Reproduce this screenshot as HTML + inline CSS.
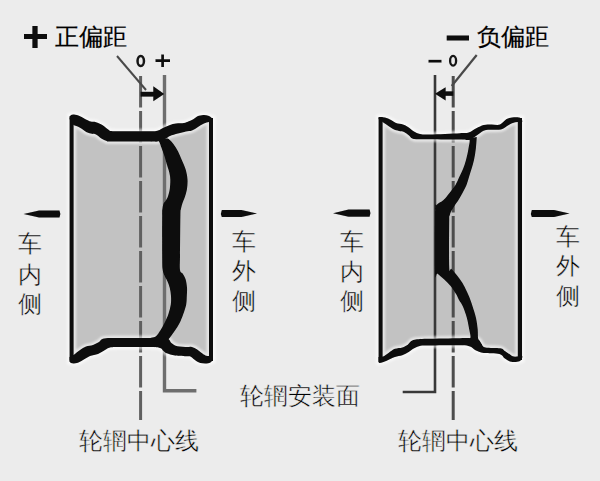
<!DOCTYPE html>
<html><head><meta charset="utf-8"><style>
html,body{margin:0;padding:0;background:#ececec;width:600px;height:481px;overflow:hidden}
svg{display:block}
</style></head><body>
<svg width="600" height="481" viewBox="0 0 600 481">
<rect x="0" y="0" width="600" height="481" fill="#ececec"/>
<defs><filter id="soft" filterUnits="userSpaceOnUse" x="0" y="0" width="600" height="481"><feGaussianBlur stdDeviation="0.5"/></filter></defs>
<g filter="url(#soft)">
<path d="M69.50,119.00 C69.67,118.42 69.75,116.25 70.50,115.50 C71.25,114.75 72.42,114.38 74.00,114.50 C75.58,114.62 77.92,115.32 80.00,116.20 C82.08,117.08 84.72,118.90 86.50,119.80 C88.28,120.70 89.12,121.20 90.70,121.60 C92.28,122.00 94.00,121.60 96.00,122.20 C98.00,122.80 100.48,123.85 102.70,125.20 C104.92,126.55 107.58,129.30 109.30,130.30 C111.02,131.30 106.22,131.03 113.00,131.20 C119.78,131.37 142.50,131.42 150.00,131.30 C157.50,131.18 155.67,131.13 158.00,130.50 C160.33,129.87 162.00,128.42 164.00,127.50 C166.00,126.58 168.00,125.67 170.00,125.00 C172.00,124.33 173.67,123.83 176.00,123.50 C178.33,123.17 181.95,123.33 184.00,123.00 C186.05,122.67 186.75,122.13 188.30,121.50 C189.85,120.87 191.77,120.08 193.30,119.20 C194.83,118.33 195.83,116.95 197.50,116.25 C199.17,115.55 201.50,115.08 203.30,115.00 C205.10,114.92 206.77,115.17 208.30,115.80 C209.83,116.42 211.72,117.72 212.50,118.75 C213.28,119.78 212.92,121.46 213.00,122.00 L213.00,358.30 C212.70,358.90 212.23,361.05 211.20,361.90 C210.17,362.75 208.62,363.22 206.80,363.40 C204.98,363.58 202.12,363.43 200.30,363.00 C198.48,362.57 197.48,361.83 195.90,360.80 C194.32,359.77 192.20,357.56 190.80,356.80 C189.40,356.04 190.13,356.48 187.50,356.25 C184.87,356.02 178.47,355.89 175.00,355.40 C171.53,354.91 168.65,354.07 166.70,353.30 C164.75,352.53 164.42,351.70 163.30,350.80 C162.18,349.90 162.22,348.53 160.00,347.90 C157.78,347.27 156.67,347.15 150.00,347.00 C143.33,346.85 126.67,346.92 120.00,347.00 C113.33,347.08 112.50,347.00 110.00,347.50 C107.50,348.00 107.00,348.92 105.00,350.00 C103.00,351.08 100.50,353.00 98.00,354.00 C95.50,355.00 92.50,355.00 90.00,356.00 C87.50,357.00 85.17,358.83 83.00,360.00 C80.83,361.17 79.00,362.50 77.00,363.00 C75.00,363.50 72.25,363.50 71.00,363.00 C69.75,362.50 69.75,360.50 69.50,360.00 Z" fill="#c2c2c2"/>
<path d="M378.50,119.00 C378.67,118.67 378.42,117.25 379.50,117.00 C380.58,116.75 383.08,117.00 385.00,117.50 C386.92,118.00 389.17,119.08 391.00,120.00 C392.83,120.92 394.00,122.25 396.00,123.00 C398.00,123.75 401.00,123.83 403.00,124.50 C405.00,125.17 406.17,125.83 408.00,127.00 C409.83,128.17 412.00,130.33 414.00,131.50 C416.00,132.67 417.33,133.50 420.00,134.00 C422.67,134.50 423.33,134.63 430.00,134.50 C436.67,134.37 453.55,133.52 460.00,133.20 C466.45,132.88 465.98,133.42 468.70,132.60 C471.42,131.78 473.78,129.57 476.30,128.30 C478.82,127.03 481.28,125.63 483.80,125.00 C486.32,124.37 488.70,124.58 491.40,124.50 C494.10,124.42 497.47,125.40 500.00,124.50 C502.53,123.60 504.60,120.27 506.60,119.10 C508.60,117.93 509.93,117.77 512.00,117.50 C514.07,117.23 517.37,117.15 519.00,117.50 C520.63,117.85 521.25,118.85 521.80,119.60 C522.35,120.35 522.22,121.60 522.30,122.00 L522.30,357.50 C521.83,358.12 521.33,360.50 519.50,361.20 C517.67,361.90 513.73,362.17 511.30,361.70 C508.87,361.23 506.88,359.70 504.90,358.40 C502.92,357.10 502.92,354.82 499.40,353.90 C495.88,352.98 487.78,353.52 483.80,352.90 C479.82,352.28 477.80,351.27 475.50,350.20 C473.20,349.13 472.58,347.32 470.00,346.50 C467.42,345.68 467.17,345.47 460.00,345.30 C452.83,345.13 433.57,345.42 427.00,345.50 C420.43,345.58 422.73,345.33 420.60,345.80 C418.47,346.27 416.18,347.27 414.20,348.30 C412.22,349.33 410.68,350.85 408.70,352.00 C406.72,353.15 404.60,354.37 402.30,355.20 C400.00,356.03 397.50,356.08 394.90,357.00 C392.30,357.92 389.27,359.70 386.70,360.70 C384.13,361.70 380.87,363.12 379.50,363.00 C378.13,362.88 378.67,360.50 378.50,360.00 Z" fill="#c2c2c2"/>
<line x1="140.6" y1="76" x2="140.6" y2="420" stroke="#606060" stroke-width="3" stroke-dasharray="31.5 3.5"/>
<polyline points="164.5,75 164.5,390.8 196.4,390.8" fill="none" stroke="#6e6e6e" stroke-width="3.4"/>
<line x1="453.2" y1="76" x2="453.2" y2="420" stroke="#4e4e4e" stroke-width="3" stroke-dasharray="31.5 3.5"/>
<polyline points="435,75 435,392 402.7,392" fill="none" stroke="#383838" stroke-width="2.6"/>
<defs><filter id="hb" x="-5%" y="-5%" width="110%" height="110%"><feGaussianBlur stdDeviation="1.2"/></filter></defs>
<g filter="url(#hb)" opacity="0.6"><path d="M69.50,119.00 C69.67,118.42 69.75,116.25 70.50,115.50 C71.25,114.75 72.42,114.38 74.00,114.50 C75.58,114.62 77.92,115.32 80.00,116.20 C82.08,117.08 84.72,118.90 86.50,119.80 C88.28,120.70 89.12,121.20 90.70,121.60 C92.28,122.00 94.00,121.60 96.00,122.20 C98.00,122.80 100.48,123.85 102.70,125.20 C104.92,126.55 107.58,129.30 109.30,130.30 C111.02,131.30 106.22,131.03 113.00,131.20 C119.78,131.37 142.50,131.42 150.00,131.30 C157.50,131.18 155.67,131.13 158.00,130.50 C160.33,129.87 162.00,128.42 164.00,127.50 C166.00,126.58 168.00,125.67 170.00,125.00 C172.00,124.33 173.67,123.83 176.00,123.50 C178.33,123.17 181.95,123.33 184.00,123.00 C186.05,122.67 186.75,122.13 188.30,121.50 C189.85,120.87 191.77,120.08 193.30,119.20 C194.83,118.33 195.83,116.95 197.50,116.25 C199.17,115.55 201.50,115.08 203.30,115.00 C205.10,114.92 206.77,115.17 208.30,115.80 C209.83,116.42 211.72,117.72 212.50,118.75 C213.28,119.78 212.92,121.46 213.00,122.00 L213.00,122.00 C212.33,122.00 210.50,121.75 209.00,122.00 C207.50,122.25 205.83,122.67 204.00,123.50 C202.17,124.33 200.00,125.83 198.00,127.00 C196.00,128.17 194.00,129.75 192.00,130.50 C190.00,131.25 188.33,131.00 186.00,131.50 C183.67,132.00 180.67,132.75 178.00,133.50 C175.33,134.25 172.00,135.17 170.00,136.00 C168.00,136.83 168.08,137.60 166.00,138.50 C163.92,139.40 160.17,140.90 157.50,141.40 C154.83,141.90 157.75,141.48 150.00,141.50 C142.25,141.52 118.22,141.60 111.00,141.50 C103.78,141.40 108.32,141.42 106.70,140.90 C105.08,140.38 103.08,139.47 101.30,138.40 C99.52,137.33 97.55,135.27 96.00,134.50 C94.45,133.73 93.55,134.17 92.00,133.80 C90.45,133.43 88.70,133.32 86.70,132.30 C84.70,131.28 82.20,128.92 80.00,127.70 C77.80,126.48 74.58,125.45 73.50,125.00 Z" fill="none" stroke="#ffffff" stroke-width="5" stroke-linejoin="round"/><path d="M69.50,357.00 C70.17,356.67 71.75,356.17 73.50,355.00 C75.25,353.83 77.92,351.42 80.00,350.00 C82.08,348.58 83.83,347.33 86.00,346.50 C88.17,345.67 90.83,345.75 93.00,345.00 C95.17,344.25 97.17,343.08 99.00,342.00 C100.83,340.92 100.50,339.17 104.00,338.50 C107.50,337.83 112.33,338.10 120.00,338.00 C127.67,337.90 143.75,337.92 150.00,337.90 C156.25,337.88 154.83,337.80 157.50,337.90 C160.17,338.00 164.05,338.20 166.00,338.50 C167.95,338.80 168.25,338.90 169.20,339.70 C170.15,340.50 170.32,342.21 171.70,343.30 C173.08,344.39 174.87,345.63 177.50,346.25 C180.13,346.87 185.28,346.91 187.50,347.00 C189.72,347.09 189.40,346.50 190.80,346.80 C192.20,347.10 194.20,347.85 195.90,348.80 C197.60,349.75 199.42,351.40 201.00,352.50 C202.58,353.60 204.07,354.80 205.40,355.40 C206.73,356.00 207.73,356.00 209.00,356.10 C210.27,356.20 212.33,356.02 213.00,356.00 L213.00,358.30 C212.70,358.90 212.23,361.05 211.20,361.90 C210.17,362.75 208.62,363.22 206.80,363.40 C204.98,363.58 202.12,363.43 200.30,363.00 C198.48,362.57 197.48,361.83 195.90,360.80 C194.32,359.77 192.20,357.56 190.80,356.80 C189.40,356.04 190.13,356.48 187.50,356.25 C184.87,356.02 178.47,355.89 175.00,355.40 C171.53,354.91 168.65,354.07 166.70,353.30 C164.75,352.53 164.42,351.70 163.30,350.80 C162.18,349.90 162.22,348.53 160.00,347.90 C157.78,347.27 156.67,347.15 150.00,347.00 C143.33,346.85 126.67,346.92 120.00,347.00 C113.33,347.08 112.50,347.00 110.00,347.50 C107.50,348.00 107.00,348.92 105.00,350.00 C103.00,351.08 100.50,353.00 98.00,354.00 C95.50,355.00 92.50,355.00 90.00,356.00 C87.50,357.00 85.17,358.83 83.00,360.00 C80.83,361.17 79.00,362.50 77.00,363.00 C75.00,363.50 72.25,363.50 71.00,363.00 C69.75,362.50 69.75,360.50 69.50,360.00 Z" fill="none" stroke="#ffffff" stroke-width="5" stroke-linejoin="round"/><path d="M378.50,119.00 C378.67,118.67 378.42,117.25 379.50,117.00 C380.58,116.75 383.08,117.00 385.00,117.50 C386.92,118.00 389.17,119.08 391.00,120.00 C392.83,120.92 394.00,122.25 396.00,123.00 C398.00,123.75 401.00,123.83 403.00,124.50 C405.00,125.17 406.17,125.83 408.00,127.00 C409.83,128.17 412.00,130.33 414.00,131.50 C416.00,132.67 417.33,133.50 420.00,134.00 C422.67,134.50 423.33,134.63 430.00,134.50 C436.67,134.37 453.55,133.52 460.00,133.20 C466.45,132.88 465.98,133.42 468.70,132.60 C471.42,131.78 473.78,129.57 476.30,128.30 C478.82,127.03 481.28,125.63 483.80,125.00 C486.32,124.37 488.70,124.58 491.40,124.50 C494.10,124.42 497.47,125.40 500.00,124.50 C502.53,123.60 504.60,120.27 506.60,119.10 C508.60,117.93 509.93,117.77 512.00,117.50 C514.07,117.23 517.37,117.15 519.00,117.50 C520.63,117.85 521.25,118.85 521.80,119.60 C522.35,120.35 522.22,121.60 522.30,122.00 L522.30,122.00 C521.13,122.05 517.55,121.80 515.30,122.30 C513.05,122.80 511.18,123.82 508.80,125.00 C506.42,126.18 504.80,128.57 501.00,129.40 C497.20,130.23 489.77,129.18 486.00,130.00 C482.23,130.82 481.10,132.68 478.40,134.30 C475.70,135.92 472.87,138.82 469.80,139.70 C466.73,140.58 466.63,139.68 460.00,139.60 C453.37,139.52 437.67,139.30 430.00,139.20 C422.33,139.10 417.50,139.62 414.00,139.00 C410.50,138.38 410.67,136.67 409.00,135.50 C407.33,134.33 405.67,132.75 404.00,132.00 C402.33,131.25 400.83,131.50 399.00,131.00 C397.17,130.50 395.00,130.00 393.00,129.00 C391.00,128.00 388.75,126.17 387.00,125.00 C385.25,123.83 383.25,122.50 382.50,122.00 Z" fill="none" stroke="#ffffff" stroke-width="5" stroke-linejoin="round"/><path d="M378.50,357.00 C379.25,356.93 381.33,357.28 383.00,356.60 C384.67,355.92 386.52,354.20 388.50,352.90 C390.48,351.60 392.60,349.72 394.90,348.80 C397.20,347.88 400.15,348.08 402.30,347.40 C404.45,346.72 405.97,345.92 407.80,344.70 C409.63,343.48 410.10,341.08 413.30,340.10 C416.50,339.12 419.22,339.12 427.00,338.80 C434.78,338.48 452.78,338.30 460.00,338.20 C467.22,338.10 467.25,337.98 470.30,338.20 C473.35,338.42 476.37,338.42 478.30,339.50 C480.23,340.58 480.68,343.38 481.90,344.70 C483.12,346.02 482.53,346.80 485.60,347.40 C488.67,348.00 497.08,347.68 500.30,348.30 C503.52,348.92 503.22,350.02 504.90,351.10 C506.58,352.18 508.88,353.88 510.40,354.80 C511.92,355.72 512.02,356.40 514.00,356.60 C515.98,356.80 520.92,356.10 522.30,356.00 L522.30,357.50 C521.83,358.12 521.33,360.50 519.50,361.20 C517.67,361.90 513.73,362.17 511.30,361.70 C508.87,361.23 506.88,359.70 504.90,358.40 C502.92,357.10 502.92,354.82 499.40,353.90 C495.88,352.98 487.78,353.52 483.80,352.90 C479.82,352.28 477.80,351.27 475.50,350.20 C473.20,349.13 472.58,347.32 470.00,346.50 C467.42,345.68 467.17,345.47 460.00,345.30 C452.83,345.13 433.57,345.42 427.00,345.50 C420.43,345.58 422.73,345.33 420.60,345.80 C418.47,346.27 416.18,347.27 414.20,348.30 C412.22,349.33 410.68,350.85 408.70,352.00 C406.72,353.15 404.60,354.37 402.30,355.20 C400.00,356.03 397.50,356.08 394.90,357.00 C392.30,357.92 389.27,359.70 386.70,360.70 C384.13,361.70 380.87,363.12 379.50,363.00 C378.13,362.88 378.67,360.50 378.50,360.00 Z" fill="none" stroke="#ffffff" stroke-width="5" stroke-linejoin="round"/><rect x="69.6" y="116" width="4.0" height="246" fill="none" stroke="#ffffff" stroke-width="5"/><rect x="209" y="118" width="4" height="243" fill="none" stroke="#ffffff" stroke-width="5"/><rect x="378.6" y="117" width="4.0" height="245" fill="none" stroke="#ffffff" stroke-width="5"/><rect x="517.8" y="118" width="4.2000000000000455" height="242" fill="none" stroke="#ffffff" stroke-width="5"/></g>
<rect x="69.6" y="116" width="4.0" height="246" fill="#0a0a0a"/>
<rect x="209" y="118" width="4" height="243" fill="#0a0a0a"/>
<rect x="378.6" y="117" width="4.0" height="245" fill="#0a0a0a"/>
<rect x="517.8" y="118" width="4.2000000000000455" height="242" fill="#0a0a0a"/>
<path d="M69.50,119.00 C69.67,118.42 69.75,116.25 70.50,115.50 C71.25,114.75 72.42,114.38 74.00,114.50 C75.58,114.62 77.92,115.32 80.00,116.20 C82.08,117.08 84.72,118.90 86.50,119.80 C88.28,120.70 89.12,121.20 90.70,121.60 C92.28,122.00 94.00,121.60 96.00,122.20 C98.00,122.80 100.48,123.85 102.70,125.20 C104.92,126.55 107.58,129.30 109.30,130.30 C111.02,131.30 106.22,131.03 113.00,131.20 C119.78,131.37 142.50,131.42 150.00,131.30 C157.50,131.18 155.67,131.13 158.00,130.50 C160.33,129.87 162.00,128.42 164.00,127.50 C166.00,126.58 168.00,125.67 170.00,125.00 C172.00,124.33 173.67,123.83 176.00,123.50 C178.33,123.17 181.95,123.33 184.00,123.00 C186.05,122.67 186.75,122.13 188.30,121.50 C189.85,120.87 191.77,120.08 193.30,119.20 C194.83,118.33 195.83,116.95 197.50,116.25 C199.17,115.55 201.50,115.08 203.30,115.00 C205.10,114.92 206.77,115.17 208.30,115.80 C209.83,116.42 211.72,117.72 212.50,118.75 C213.28,119.78 212.92,121.46 213.00,122.00 L213.00,122.00 C212.33,122.00 210.50,121.75 209.00,122.00 C207.50,122.25 205.83,122.67 204.00,123.50 C202.17,124.33 200.00,125.83 198.00,127.00 C196.00,128.17 194.00,129.75 192.00,130.50 C190.00,131.25 188.33,131.00 186.00,131.50 C183.67,132.00 180.67,132.75 178.00,133.50 C175.33,134.25 172.00,135.17 170.00,136.00 C168.00,136.83 168.08,137.60 166.00,138.50 C163.92,139.40 160.17,140.90 157.50,141.40 C154.83,141.90 157.75,141.48 150.00,141.50 C142.25,141.52 118.22,141.60 111.00,141.50 C103.78,141.40 108.32,141.42 106.70,140.90 C105.08,140.38 103.08,139.47 101.30,138.40 C99.52,137.33 97.55,135.27 96.00,134.50 C94.45,133.73 93.55,134.17 92.00,133.80 C90.45,133.43 88.70,133.32 86.70,132.30 C84.70,131.28 82.20,128.92 80.00,127.70 C77.80,126.48 74.58,125.45 73.50,125.00 Z" fill="#0a0a0a"/>
<path d="M69.50,357.00 C70.17,356.67 71.75,356.17 73.50,355.00 C75.25,353.83 77.92,351.42 80.00,350.00 C82.08,348.58 83.83,347.33 86.00,346.50 C88.17,345.67 90.83,345.75 93.00,345.00 C95.17,344.25 97.17,343.08 99.00,342.00 C100.83,340.92 100.50,339.17 104.00,338.50 C107.50,337.83 112.33,338.10 120.00,338.00 C127.67,337.90 143.75,337.92 150.00,337.90 C156.25,337.88 154.83,337.80 157.50,337.90 C160.17,338.00 164.05,338.20 166.00,338.50 C167.95,338.80 168.25,338.90 169.20,339.70 C170.15,340.50 170.32,342.21 171.70,343.30 C173.08,344.39 174.87,345.63 177.50,346.25 C180.13,346.87 185.28,346.91 187.50,347.00 C189.72,347.09 189.40,346.50 190.80,346.80 C192.20,347.10 194.20,347.85 195.90,348.80 C197.60,349.75 199.42,351.40 201.00,352.50 C202.58,353.60 204.07,354.80 205.40,355.40 C206.73,356.00 207.73,356.00 209.00,356.10 C210.27,356.20 212.33,356.02 213.00,356.00 L213.00,358.30 C212.70,358.90 212.23,361.05 211.20,361.90 C210.17,362.75 208.62,363.22 206.80,363.40 C204.98,363.58 202.12,363.43 200.30,363.00 C198.48,362.57 197.48,361.83 195.90,360.80 C194.32,359.77 192.20,357.56 190.80,356.80 C189.40,356.04 190.13,356.48 187.50,356.25 C184.87,356.02 178.47,355.89 175.00,355.40 C171.53,354.91 168.65,354.07 166.70,353.30 C164.75,352.53 164.42,351.70 163.30,350.80 C162.18,349.90 162.22,348.53 160.00,347.90 C157.78,347.27 156.67,347.15 150.00,347.00 C143.33,346.85 126.67,346.92 120.00,347.00 C113.33,347.08 112.50,347.00 110.00,347.50 C107.50,348.00 107.00,348.92 105.00,350.00 C103.00,351.08 100.50,353.00 98.00,354.00 C95.50,355.00 92.50,355.00 90.00,356.00 C87.50,357.00 85.17,358.83 83.00,360.00 C80.83,361.17 79.00,362.50 77.00,363.00 C75.00,363.50 72.25,363.50 71.00,363.00 C69.75,362.50 69.75,360.50 69.50,360.00 Z" fill="#0a0a0a"/>
<path d="M150.00,141.20 C151.25,141.17 155.93,140.83 157.50,141.00 C159.07,141.17 158.73,141.07 159.40,142.20 C160.07,143.33 160.65,145.47 161.50,147.80 C162.35,150.13 163.55,153.23 164.50,156.20 C165.45,159.17 166.40,162.88 167.20,165.60 C168.00,168.32 168.78,170.20 169.30,172.50 C169.82,174.80 170.22,176.70 170.30,179.40 C170.38,182.10 170.18,185.90 169.80,188.70 C169.42,191.50 168.72,194.17 168.00,196.20 C167.28,198.23 166.25,199.65 165.50,200.90 C164.75,202.15 164.02,202.30 163.50,203.70 C162.98,205.10 162.62,207.42 162.40,209.30 C162.18,211.18 162.23,207.38 162.20,215.00 C162.17,222.62 162.13,246.00 162.20,255.00 C162.27,264.00 162.22,265.57 162.60,269.00 C162.98,272.43 163.72,273.60 164.50,275.60 C165.28,277.60 166.42,278.93 167.30,281.00 C168.18,283.07 169.18,285.50 169.80,288.00 C170.42,290.50 170.83,293.27 171.00,296.00 C171.17,298.73 171.22,301.45 170.80,304.40 C170.38,307.35 169.55,310.58 168.50,313.70 C167.45,316.82 165.87,320.28 164.50,323.10 C163.13,325.92 161.72,328.42 160.30,330.60 C158.88,332.78 157.62,334.98 156.00,336.20 C154.38,337.42 151.60,337.60 150.60,337.90 C149.60,338.20 150.10,337.98 150.00,338.00 L168.00,345.00 C168.07,344.17 168.02,341.32 168.40,340.00 C168.78,338.68 169.20,338.67 170.30,337.10 C171.40,335.53 173.45,332.93 175.00,330.60 C176.55,328.27 178.20,325.92 179.60,323.10 C181.00,320.28 182.30,316.82 183.40,313.70 C184.50,310.58 185.63,307.35 186.20,304.40 C186.77,301.45 186.67,298.77 186.80,296.00 C186.93,293.23 187.20,290.58 187.00,287.80 C186.80,285.02 186.30,281.65 185.60,279.30 C184.90,276.95 183.73,275.25 182.80,273.70 C181.87,272.15 180.47,273.12 180.00,270.00 C179.53,266.88 179.93,264.17 180.00,255.00 C180.07,245.83 180.25,222.62 180.40,215.00 C180.55,207.38 180.58,211.18 180.90,209.30 C181.22,207.42 181.60,205.88 182.30,203.70 C183.00,201.52 184.32,198.70 185.10,196.20 C185.88,193.70 186.60,191.50 187.00,188.70 C187.40,185.90 187.73,182.63 187.50,179.40 C187.27,176.17 186.55,172.53 185.60,169.30 C184.65,166.07 183.05,162.97 181.80,160.00 C180.55,157.03 179.50,154.17 178.10,151.50 C176.70,148.83 174.97,146.10 173.40,144.00 C171.83,141.90 169.93,139.82 168.70,138.90 C167.47,137.98 166.45,138.57 166.00,138.50 Z" fill="#0a0a0a"/>
<path d="M378.50,119.00 C378.67,118.67 378.42,117.25 379.50,117.00 C380.58,116.75 383.08,117.00 385.00,117.50 C386.92,118.00 389.17,119.08 391.00,120.00 C392.83,120.92 394.00,122.25 396.00,123.00 C398.00,123.75 401.00,123.83 403.00,124.50 C405.00,125.17 406.17,125.83 408.00,127.00 C409.83,128.17 412.00,130.33 414.00,131.50 C416.00,132.67 417.33,133.50 420.00,134.00 C422.67,134.50 423.33,134.63 430.00,134.50 C436.67,134.37 453.55,133.52 460.00,133.20 C466.45,132.88 465.98,133.42 468.70,132.60 C471.42,131.78 473.78,129.57 476.30,128.30 C478.82,127.03 481.28,125.63 483.80,125.00 C486.32,124.37 488.70,124.58 491.40,124.50 C494.10,124.42 497.47,125.40 500.00,124.50 C502.53,123.60 504.60,120.27 506.60,119.10 C508.60,117.93 509.93,117.77 512.00,117.50 C514.07,117.23 517.37,117.15 519.00,117.50 C520.63,117.85 521.25,118.85 521.80,119.60 C522.35,120.35 522.22,121.60 522.30,122.00 L522.30,122.00 C521.13,122.05 517.55,121.80 515.30,122.30 C513.05,122.80 511.18,123.82 508.80,125.00 C506.42,126.18 504.80,128.57 501.00,129.40 C497.20,130.23 489.77,129.18 486.00,130.00 C482.23,130.82 481.10,132.68 478.40,134.30 C475.70,135.92 472.87,138.82 469.80,139.70 C466.73,140.58 466.63,139.68 460.00,139.60 C453.37,139.52 437.67,139.30 430.00,139.20 C422.33,139.10 417.50,139.62 414.00,139.00 C410.50,138.38 410.67,136.67 409.00,135.50 C407.33,134.33 405.67,132.75 404.00,132.00 C402.33,131.25 400.83,131.50 399.00,131.00 C397.17,130.50 395.00,130.00 393.00,129.00 C391.00,128.00 388.75,126.17 387.00,125.00 C385.25,123.83 383.25,122.50 382.50,122.00 Z" fill="#0a0a0a"/>
<path d="M378.50,357.00 C379.25,356.93 381.33,357.28 383.00,356.60 C384.67,355.92 386.52,354.20 388.50,352.90 C390.48,351.60 392.60,349.72 394.90,348.80 C397.20,347.88 400.15,348.08 402.30,347.40 C404.45,346.72 405.97,345.92 407.80,344.70 C409.63,343.48 410.10,341.08 413.30,340.10 C416.50,339.12 419.22,339.12 427.00,338.80 C434.78,338.48 452.78,338.30 460.00,338.20 C467.22,338.10 467.25,337.98 470.30,338.20 C473.35,338.42 476.37,338.42 478.30,339.50 C480.23,340.58 480.68,343.38 481.90,344.70 C483.12,346.02 482.53,346.80 485.60,347.40 C488.67,348.00 497.08,347.68 500.30,348.30 C503.52,348.92 503.22,350.02 504.90,351.10 C506.58,352.18 508.88,353.88 510.40,354.80 C511.92,355.72 512.02,356.40 514.00,356.60 C515.98,356.80 520.92,356.10 522.30,356.00 L522.30,357.50 C521.83,358.12 521.33,360.50 519.50,361.20 C517.67,361.90 513.73,362.17 511.30,361.70 C508.87,361.23 506.88,359.70 504.90,358.40 C502.92,357.10 502.92,354.82 499.40,353.90 C495.88,352.98 487.78,353.52 483.80,352.90 C479.82,352.28 477.80,351.27 475.50,350.20 C473.20,349.13 472.58,347.32 470.00,346.50 C467.42,345.68 467.17,345.47 460.00,345.30 C452.83,345.13 433.57,345.42 427.00,345.50 C420.43,345.58 422.73,345.33 420.60,345.80 C418.47,346.27 416.18,347.27 414.20,348.30 C412.22,349.33 410.68,350.85 408.70,352.00 C406.72,353.15 404.60,354.37 402.30,355.20 C400.00,356.03 397.50,356.08 394.90,357.00 C392.30,357.92 389.27,359.70 386.70,360.70 C384.13,361.70 380.87,363.12 379.50,363.00 C378.13,362.88 378.67,360.50 378.50,360.00 Z" fill="#0a0a0a"/>
<path d="M462.00,139.50 C463.22,139.45 468.23,137.62 469.30,139.20 C470.37,140.78 468.95,145.53 468.40,149.00 C467.85,152.47 466.90,156.67 466.00,160.00 C465.10,163.33 464.08,166.23 463.00,169.00 C461.92,171.77 460.75,173.93 459.50,176.60 C458.25,179.27 457.17,182.27 455.50,185.00 C453.83,187.73 451.50,190.50 449.50,193.00 C447.50,195.50 445.67,198.00 443.50,200.00 C441.33,202.00 437.88,203.33 436.50,205.00 C435.12,206.67 435.43,198.70 435.20,210.00 C434.97,221.30 434.72,262.18 435.10,272.80 C435.48,283.42 436.02,272.62 437.50,273.70 C438.98,274.78 441.82,277.27 444.00,279.30 C446.18,281.33 448.57,283.40 450.60,285.90 C452.63,288.40 454.80,291.95 456.20,294.30 C457.60,296.65 457.88,297.98 459.00,300.00 C460.12,302.02 461.58,303.42 462.90,306.40 C464.22,309.38 465.85,314.08 466.90,317.90 C467.95,321.72 468.63,325.97 469.20,329.30 C469.77,332.63 471.00,336.45 470.30,337.90 C469.60,339.35 465.88,337.98 465.00,338.00 L478.00,346.00 C478.65,345.78 481.85,345.83 481.90,344.70 C481.95,343.57 479.00,341.77 478.30,339.20 C477.60,336.63 478.08,332.85 477.70,329.30 C477.32,325.75 476.85,321.72 476.00,317.90 C475.15,314.08 473.72,309.87 472.60,306.40 C471.48,302.93 470.48,300.05 469.30,297.10 C468.12,294.15 466.75,291.20 465.50,288.70 C464.25,286.20 463.20,284.28 461.80,282.10 C460.40,279.92 458.82,277.78 457.10,275.60 C455.38,273.42 452.82,270.40 451.50,269.00 C450.18,267.60 449.58,275.37 449.20,267.20 C448.82,259.03 449.13,228.53 449.20,220.00 C449.27,211.47 449.30,217.42 449.60,216.00 C449.90,214.58 450.27,213.08 451.00,211.50 C451.73,209.92 452.75,208.42 454.00,206.50 C455.25,204.58 457.08,202.25 458.50,200.00 C459.92,197.75 461.17,195.50 462.50,193.00 C463.83,190.50 465.42,187.67 466.50,185.00 C467.58,182.33 468.17,179.67 469.00,177.00 C469.83,174.33 470.67,171.83 471.50,169.00 C472.33,166.17 473.28,163.33 474.00,160.00 C474.72,156.67 475.33,152.85 475.80,149.00 C476.27,145.15 476.63,138.92 476.80,136.90 Z" fill="#0a0a0a"/>
<line x1="117" y1="56" x2="146" y2="90" stroke="#4a4a4a" stroke-width="2"/>
<line x1="140.6" y1="94.2" x2="155" y2="94.2" stroke="#0a0a0a" stroke-width="4.8"/>
<polygon points="153.3,86.2 164.2,94 153.3,101.2" fill="#0a0a0a"/>
<line x1="476.7" y1="55" x2="451.7" y2="86" stroke="#4a4a4a" stroke-width="2.2"/>
<line x1="444" y1="93.6" x2="453.3" y2="93.6" stroke="#0a0a0a" stroke-width="4.5"/>
<polygon points="445.6,87.3 435,93.75 445.6,100.4" fill="#0a0a0a"/>
<ellipse cx="140.75" cy="61" rx="3.2" ry="5.1" fill="none" stroke="#151515" stroke-width="2.5"/>
<path d="M155.5,60.7 H170 M162.6,54.5 V67" stroke="#111" stroke-width="2.7"/>
<ellipse cx="453.1" cy="60.8" rx="3.0" ry="4.9" fill="none" stroke="#151515" stroke-width="2.3"/>
<path d="M428.5,61.2 H441.5" stroke="#111" stroke-width="2.7"/>
<path d="M24,36.5 H47 M35,26 V48" stroke="#0a0a0a" stroke-width="5.2"/>
<path d="M446.7,38 H469" stroke="#0a0a0a" stroke-width="5"/>
<path d="M23.5,214 L39.0,210.4 L59.5,210.4 Q61.3,214 59.5,217.6 L39.0,217.6 Z" fill="#0a0a0a"/>
<path d="M257,213.5 L241.5,209.9 L221.8,209.9 Q220.0,213.5 221.8,217.1 L241.5,217.1 Z" fill="#0a0a0a"/>
<path d="M333,213.2 L348.5,209.6 L369.6,209.6 Q371.40000000000003,213.2 369.6,216.79999999999998 L348.5,216.79999999999998 Z" fill="#0a0a0a"/>
<path d="M569.6,213.5 L554.1,209.9 L531.8,209.9 Q530.0,213.5 531.8,217.1 L554.1,217.1 Z" fill="#0a0a0a"/>
</g>
<text x="55.2" y="45" font-size="24" fill="#000" stroke="#000" stroke-width="0.2" style="font-family:'Liberation Sans',sans-serif">正偏距</text>
<text x="477.2" y="45" font-size="24" fill="#000" stroke="#000" stroke-width="0.2" style="font-family:'Liberation Sans',sans-serif">负偏距</text>
<text x="78.9" y="449" font-size="24" fill="#000" stroke="#ececec" stroke-width="0.45" style="font-family:'Liberation Sans',sans-serif">轮辋中心线</text>
<text x="398.2" y="449" font-size="24" fill="#000" stroke="#ececec" stroke-width="0.45" style="font-family:'Liberation Sans',sans-serif">轮辋中心线</text>
<text x="239.8" y="404.2" font-size="24" fill="#000" stroke="#ececec" stroke-width="0.45" style="font-family:'Liberation Sans',sans-serif">轮辋安装面</text>
<text x="18.2" y="252.2" font-size="24" fill="#000" stroke="#ececec" stroke-width="0.45" style="font-family:'Liberation Sans',sans-serif">车</text>
<text x="18.2" y="283" font-size="24" fill="#000" stroke="#ececec" stroke-width="0.45" style="font-family:'Liberation Sans',sans-serif">内</text>
<text x="18.2" y="311.5" font-size="24" fill="#000" stroke="#ececec" stroke-width="0.45" style="font-family:'Liberation Sans',sans-serif">侧</text>
<text x="232.3" y="249.8" font-size="24" fill="#000" stroke="#ececec" stroke-width="0.45" style="font-family:'Liberation Sans',sans-serif">车</text>
<text x="232.3" y="279" font-size="24" fill="#000" stroke="#ececec" stroke-width="0.45" style="font-family:'Liberation Sans',sans-serif">外</text>
<text x="232.3" y="309.2" font-size="24" fill="#000" stroke="#ececec" stroke-width="0.45" style="font-family:'Liberation Sans',sans-serif">侧</text>
<text x="340" y="249.8" font-size="24" fill="#000" stroke="#ececec" stroke-width="0.45" style="font-family:'Liberation Sans',sans-serif">车</text>
<text x="340" y="280" font-size="24" fill="#000" stroke="#ececec" stroke-width="0.45" style="font-family:'Liberation Sans',sans-serif">内</text>
<text x="340" y="309.2" font-size="24" fill="#000" stroke="#ececec" stroke-width="0.45" style="font-family:'Liberation Sans',sans-serif">侧</text>
<text x="556" y="244.8" font-size="24" fill="#000" stroke="#ececec" stroke-width="0.45" style="font-family:'Liberation Sans',sans-serif">车</text>
<text x="556" y="274" font-size="24" fill="#000" stroke="#ececec" stroke-width="0.45" style="font-family:'Liberation Sans',sans-serif">外</text>
<text x="556" y="303.7" font-size="24" fill="#000" stroke="#ececec" stroke-width="0.45" style="font-family:'Liberation Sans',sans-serif">侧</text>
</svg>
</body></html>
